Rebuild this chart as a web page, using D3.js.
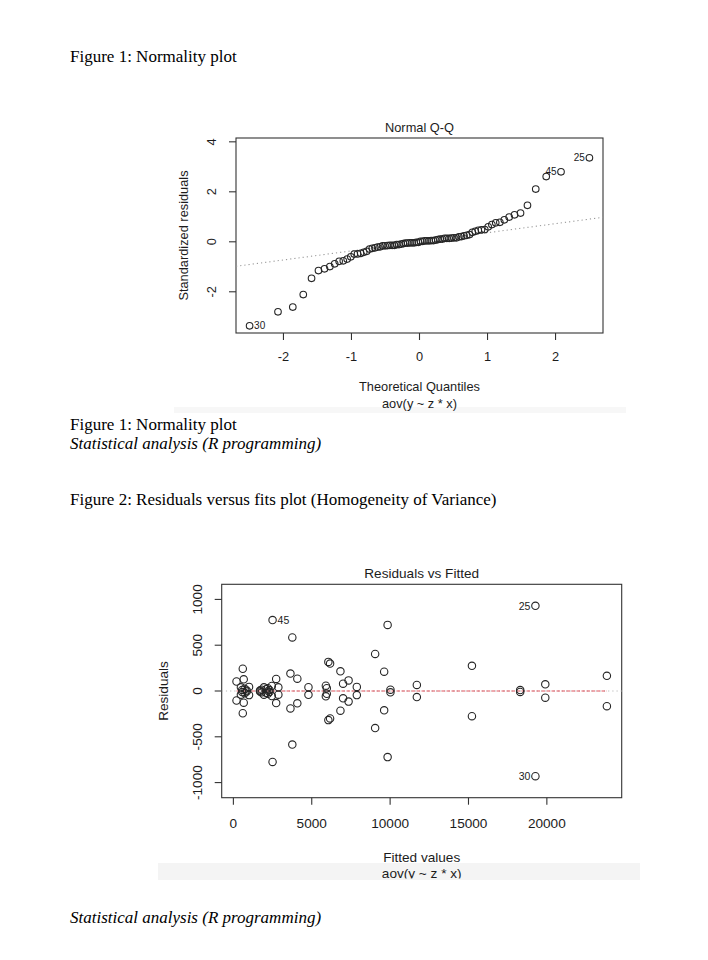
<!DOCTYPE html>
<html>
<head>
<meta charset="utf-8">
<script src="https://cdn.jsdelivr.net/npm/d3@7"></script>
<style>
  html, body { margin: 0; padding: 0; background: #fff; }
  svg { display: block; }
</style>
</head>
<body>
<svg id="page" width="708" height="960"></svg>
<script>
// ---------------- DATA ----------------
const pageTexts = [
  { text: "Figure 1: Normality plot", italic: false },
  { text: "Figure 1: Normality plot", italic: false },
  { text: "Statistical analysis (R programming)", italic: true },
  { text: "Figure 2: Residuals versus fits plot (Homogeneity of Variance)", italic: false },
  { text: "Statistical analysis (R programming)", italic: true }
];

// Normal Q-Q: standardized residuals (sorted)
const stdResiduals = [
  -3.36,-2.80,-2.61,-2.11,-1.46,-1.15,-1.08,-0.99,-0.88,-0.78,-0.76,-0.69,-0.60,-0.49,-0.48,-0.46,-0.42,-0.38,-0.29,-0.26,
  -0.24,-0.21,-0.20,-0.16,-0.16,-0.15,-0.14,-0.14,-0.14,-0.11,-0.11,-0.09,-0.07,-0.05,-0.05,-0.04,-0.04,-0.04,-0.02,-0.02,
  0.02,0.02,0.04,0.04,0.04,0.05,0.05,0.07,0.09,0.11,0.11,0.14,0.14,0.14,0.15,0.16,0.16,0.20,0.21,0.24,
  0.26,0.29,0.38,0.42,0.46,0.48,0.49,0.60,0.69,0.76,0.78,0.88,0.99,1.08,1.15,1.46,2.11,2.61,2.80,3.36
];
const qqLabels = [ { i: 79, text: "25" }, { i: 78, text: "45" }, { i: 0, text: "30" } ];
const qqTicksX = [-2, -1, 0, 1, 2];
const qqTicksY = [-2, 0, 2, 4];
const qqTitle = "Normal Q-Q";
const qqXLabel = ["Theoretical Quantiles", "aov(y ~ z * x)"];
const qqYLabel = "Standardized residuals";

// Residuals vs Fitted: fitted values and residuals (two replicates per cell)
const fittedValues = [
  200,200, 600,600, 660,660, 480,480, 560,560, 720,720, 1000,1000, 850,850,
  1700,1700, 1800,1800, 1950,1950, 2100,2100, 2200,2200, 2300,2300, 2450,2450, 2500,2500,
  2730,2730, 2870,2870, 3640,3640, 3760,3760, 4080,4080, 4790,4790,
  5900,5900, 5960,5960, 6060,6060, 6170,6170, 6830,6830, 7000,7000, 7350,7350, 7875,7875,
  9045,9045, 9620,9620, 9840,9840, 10020,10020, 11705,11705, 15220,15220, 18300,18300,
  19270,19270, 19900,19900, 23830,23830
];
const residualValues = [
  104,-104, 243,-243, 128,-128, 40,-40, 12,-12, 25,-25, 45,-45, 5,-5,
  5,-5, 15,-15, 40,-40, 20,-20, 30,-30, 10,-10, 55,-55, 775,-775,
  132,-132, 40,-40, 190,-190, 585,-585, 135,-135, 42,-42,
  58,-58, 30,-30, 318,-318, 300,-300, 215,-215, 80,-80, 116,-116, 45,-45,
  405,-405, 211,-211, 722,-722, 14,-14, 66,-66, 275,-275, 10,-10,
  930,-930, 73,-73, 166,-166
];
const rvfLabels = [ { i: 74, text: "25" }, { i: 75, text: "30" }, { i: 30, text: "45" } ];
const rvfTicksX = [0, 5000, 10000, 15000, 20000];
const rvfTicksY = [-1000, -500, 0, 500, 1000];
const rvfTitle = "Residuals vs Fitted";
const rvfXLabel = ["Fitted values", "aov(y ~ z * x)"];
const rvfYLabel = "Residuals";

// ---------------- HELPERS ----------------
function qnorm(p) {
  const a=[-3.969683028665376e+01,2.209460984245205e+02,-2.759285104469687e+02,1.383577518672690e+02,-3.066479806614716e+01,2.506628277459239e+00];
  const b=[-5.447609879822406e+01,1.615858368580409e+02,-1.556989798598866e+02,6.680131188771972e+01,-1.328068155288572e+01];
  const c=[-7.784894002430293e-03,-3.223964580411365e-01,-2.400758277161838e+00,-2.549732539343734e+00,4.374664141464968e+00,2.938163982698783e+00];
  const d=[7.784695709041462e-03,3.224671290700398e-01,2.445134137142996e+00,3.754408661907416e+00];
  const plow = 0.02425, phigh = 1 - plow;
  let q, r;
  if (p < plow) { q = Math.sqrt(-2*Math.log(p)); return (((((c[0]*q+c[1])*q+c[2])*q+c[3])*q+c[4])*q+c[5])/((((d[0]*q+d[1])*q+d[2])*q+d[3])*q+1); }
  if (p <= phigh) { q = p - 0.5; r = q*q; return (((((a[0]*r+a[1])*r+a[2])*r+a[3])*r+a[4])*r+a[5])*q/(((((b[0]*r+b[1])*r+b[2])*r+b[3])*r+b[4])*r+1); }
  q = Math.sqrt(-2*Math.log(1-p)); return -(((((c[0]*q+c[1])*q+c[2])*q+c[3])*q+c[4])*q+c[5])/((((d[0]*q+d[1])*q+d[2])*q+d[3])*q+1);
}
function ppoints(n) { const a = n <= 10 ? 3/8 : 0.5; return d3.range(1, n+1).map(i => (i - a)/(n + 1 - 2*a)); }
function extend(lo, hi, f) { const d = (hi - lo) * f; return [lo - d, hi + d]; }

const svg = d3.select("#page");
const SANS = "'Liberation Sans', Arial, Helvetica, sans-serif";
const SERIF = "'Liberation Serif', 'Times New Roman', Times, serif";
const INK = "#1c1c1c";

// ---------------- PAGE TEXT ----------------
const pageY = [62, 430, 449, 505, 923];
svg.selectAll("text.page").data(pageTexts).join("text")
  .attr("class", "page")
  .attr("x", 70).attr("y", (d, i) => pageY[i])
  .attr("font-family", SERIF).attr("font-size", 17)
  .attr("font-style", d => d.italic ? "italic" : "normal")
  .attr("fill", "#000")
  .text(d => d.text);

// faint screenshot background bands
svg.append("rect").attr("x", 174).attr("y", 407).attr("width", 452).attr("height", 6).attr("fill", "#f7f7f7");
svg.append("rect").attr("x", 158).attr("y", 863).attr("width", 482).attr("height", 17).attr("fill", "#f4f4f4");

// ---------------- GENERIC R-STYLE PANEL ----------------
function panel(opt) {
  const g = svg.append("g");
  const { x, y, fs } = opt;
  const [L, R] = x.range(), [B, T] = y.range();
  g.append("rect").attr("x", L).attr("y", T).attr("width", R - L).attr("height", B - T)
    .attr("fill", "none").attr("stroke", "#333").attr("stroke-width", 1.1);
  g.selectAll("line.xt").data(opt.ticksX).join("line")
    .attr("x1", d => x(d)).attr("x2", d => x(d)).attr("y1", B).attr("y2", B + 7)
    .attr("stroke", "#333").attr("stroke-width", 1.1);
  g.selectAll("text.xt").data(opt.ticksX).join("text")
    .attr("x", d => x(d)).attr("y", B + opt.xLabOff).attr("dy", "0.36em")
    .attr("text-anchor", "middle").attr("font-family", SANS).attr("font-size", fs).attr("fill", INK)
    .text(d => d);
  g.selectAll("line.yt").data(opt.ticksY).join("line")
    .attr("x1", L - 7).attr("x2", L).attr("y1", d => y(d)).attr("y2", d => y(d))
    .attr("stroke", "#333").attr("stroke-width", 1.1);
  g.selectAll("text.yt").data(opt.ticksY).join("text")
    .attr("transform", d => `translate(${L - opt.yLabOff},${y(d)}) rotate(-90)`)
    .attr("dy", "0.36em").attr("text-anchor", "middle")
    .attr("font-family", SANS).attr("font-size", fs).attr("fill", INK)
    .text(d => d);
  g.append("text").attr("x", (L + R) / 2).attr("y", opt.titleY).attr("dy", "0.36em")
    .attr("text-anchor", "middle").attr("font-family", SANS).attr("font-size", fs).attr("fill", INK)
    .text(opt.title);
  const xl = g.append("g");
  if (opt.clip) {
    const id = "clip" + Math.round(L);
    svg.append("clipPath").attr("id", id).append("rect").attr("x", 0).attr("y", 0).attr("width", 708).attr("height", opt.clip);
    xl.attr("clip-path", `url(#${id})`);
  }
  xl.selectAll("text").data(opt.xLabel).join("text")
    .attr("x", (L + R) / 2).attr("y", (d, i) => opt.xTitleY[i]).attr("dy", "0.36em")
    .attr("text-anchor", "middle").attr("font-family", SANS).attr("font-size", fs).attr("fill", INK)
    .text(d => d);
  g.append("text").attr("transform", `translate(${opt.yTitleX},${(T + B) / 2}) rotate(-90)`)
    .attr("dy", "0.36em").attr("text-anchor", "middle")
    .attr("font-family", SANS).attr("font-size", fs).attr("fill", INK)
    .text(opt.yLabel);
  return g;
}

// ---------------- PANEL 1: NORMAL Q-Q ----------------
{
  const n = stdResiduals.length;
  const theo = ppoints(n).map(qnorm);
  const yr = d3.extent(stdResiduals);
  const ylim = [yr[0], yr[1] + (yr[1] - yr[0]) * 0.075];
  const x = d3.scaleLinear().domain(extend(theo[0], theo[n - 1], 0.04)).range([236, 603]);
  const y = d3.scaleLinear().domain(extend(ylim[0], ylim[1], 0.04)).range([333, 138]);
  const g = panel({ x, y, fs: 12.8, ticksX: qqTicksX, ticksY: qqTicksY, xLabOff: 23.7, yLabOff: 24.5,
    title: qqTitle, titleY: 127, xLabel: qqXLabel, xTitleY: [386.5, 403], yLabel: qqYLabel, yTitleX: 183 });
  const q1 = d3.quantile(stdResiduals, 0.25), q3 = d3.quantile(stdResiduals, 0.75);
  const x1 = qnorm(0.25), x3 = qnorm(0.75);
  const slope = (q3 - q1) / (x3 - x1), icpt = q1 - slope * x1;
  const [dx0, dx1] = x.domain();
  g.append("line").attr("x1", x(dx0)).attr("x2", x(dx1))
    .attr("y1", y(icpt + slope * dx0)).attr("y2", y(icpt + slope * dx1))
    .attr("stroke", "#999").attr("stroke-width", 1.1).attr("stroke-dasharray", "1.2,3");
  g.selectAll("circle").data(stdResiduals).join("circle")
    .attr("cx", (d, i) => x(theo[i])).attr("cy", d => y(d)).attr("r", 3.3)
    .attr("fill", "none").attr("stroke", "#262626").attr("stroke-width", 1.1);
  const mid = (x.domain()[0] + x.domain()[1]) / 2;
  g.selectAll("text.lab").data(qqLabels).join("text")
    .attr("x", d => x(theo[d.i]) + (theo[d.i] > mid ? -4.5 : 4.5))
    .attr("y", d => y(stdResiduals[d.i])).attr("dy", "0.36em")
    .attr("text-anchor", d => theo[d.i] > mid ? "end" : "start")
    .attr("font-family", SANS).attr("font-size", 10).attr("fill", INK)
    .text(d => d.text);
}

// ---------------- PANEL 2: RESIDUALS VS FITTED ----------------
{
  const xr = d3.extent(fittedValues);
  const rr = d3.extent(residualValues);
  const ylim = extend(rr[0], rr[1], 0.08);
  const x = d3.scaleLinear().domain(extend(xr[0], xr[1], 0.04)).range([221.7, 621.7]);
  const y = d3.scaleLinear().domain(extend(ylim[0], ylim[1], 0.04)).range([797.7, 584.3]);
  const g = panel({ x, y, fs: 13.6, ticksX: rvfTicksX, ticksY: rvfTicksY, xLabOff: 25.6, yLabOff: 25,
    title: rvfTitle, titleY: 573.3, xLabel: rvfXLabel, xTitleY: [856.7, 873.5], yLabel: rvfYLabel, yTitleX: 163.5,
    clip: 878.6 });
  const [dx0, dx1] = x.domain();
  g.append("line").attr("x1", x(dx0)).attr("x2", x(dx1)).attr("y1", y(0)).attr("y2", y(0))
    .attr("stroke", "#b8b8b8").attr("stroke-width", 1).attr("stroke-dasharray", "1.2,3");
  g.append("line").attr("x1", x(xr[0])).attr("x2", x(xr[1])).attr("y1", y(0)).attr("y2", y(0))
    .attr("stroke", "#e0555f").attr("stroke-width", 1.1).attr("stroke-dasharray", "3.5,1.5");
  g.selectAll("circle").data(fittedValues).join("circle")
    .attr("cx", d => x(d)).attr("cy", (d, i) => y(residualValues[i])).attr("r", 3.7)
    .attr("fill", "none").attr("stroke", "#262626").attr("stroke-width", 1.1);
  const mid = (dx0 + dx1) / 2;
  g.selectAll("text.lab").data(rvfLabels).join("text")
    .attr("x", d => x(fittedValues[d.i]) + (fittedValues[d.i] > mid ? -5 : 5))
    .attr("y", d => y(residualValues[d.i])).attr("dy", "0.36em")
    .attr("text-anchor", d => fittedValues[d.i] > mid ? "end" : "start")
    .attr("font-family", SANS).attr("font-size", 10.5).attr("fill", INK)
    .text(d => d.text);
}
</script>
</body>
</html>
